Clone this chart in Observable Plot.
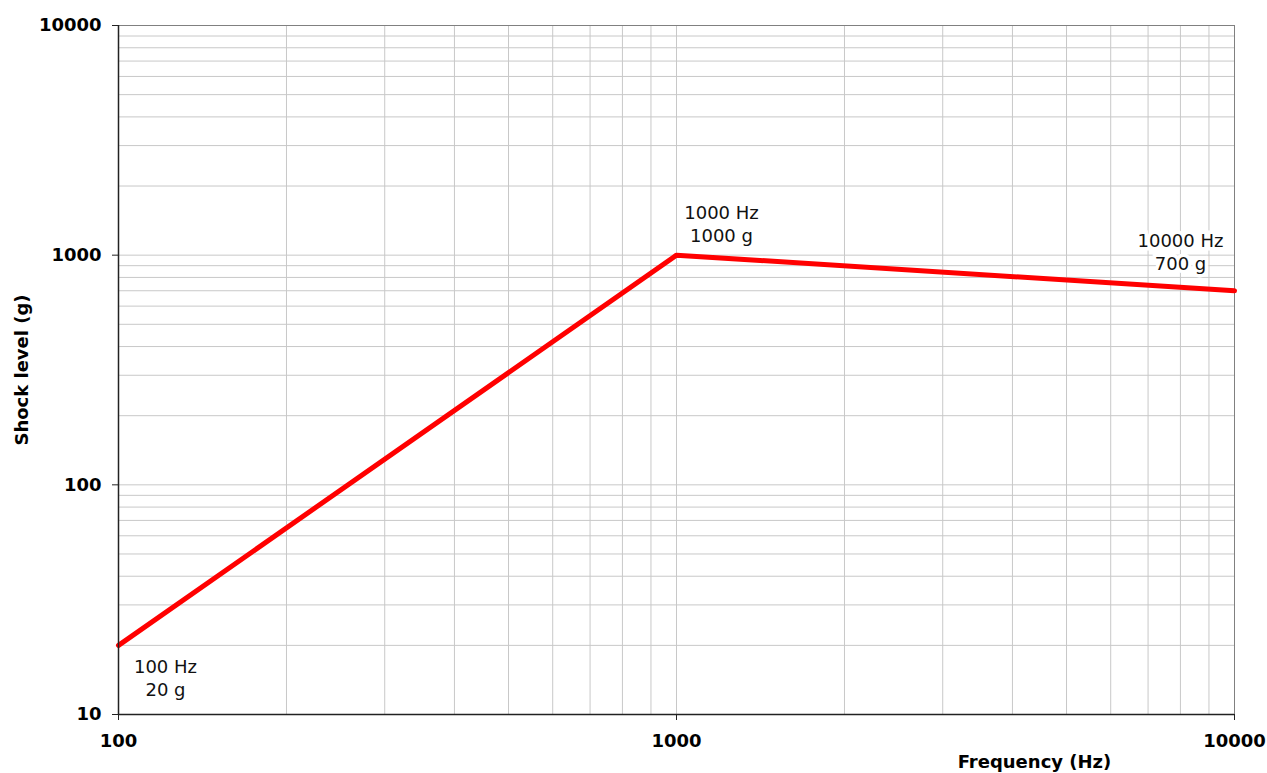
<!DOCTYPE html>
<html>
<head>
<meta charset="utf-8">
<script src="https://cdn.jsdelivr.net/npm/d3@7"></script>
<script src="https://cdn.jsdelivr.net/npm/@observablehq/plot@0.6"></script>
<style>
  html, body { margin: 0; padding: 0; background: #fff; }
  #chart svg { display: block; }
</style>
</head>
<body>
<div id="chart"></div>
<script>
// Data
const freqs = [100, 1000, 10000];
const levels = [20, 1000, 700];
const pointLabels = ["100 Hz\n20 g", "1000 Hz\n1000 g", "10000 Hz\n700 g"];
const xTicks = [100, 1000, 10000];
const yTicks = [10, 100, 1000, 10000];
const xTitle = "Frequency (Hz)";
const yTitle = "Shock level (g)";

const pts = freqs.map((f, i) => ({f, g: levels[i], label: pointLabels[i]}));

// Minor grid values (1..9 × each decade)
const decadesX = [100, 1000];
const decadesY = [10, 100, 1000];
const gridX = decadesX.flatMap(d => d3.range(1, 10).map(k => k * d)).concat([10000]);
const gridY = decadesY.flatMap(d => d3.range(1, 10).map(k => k * d)).concat([10000]);

const font = "Verdana, 'DejaVu Sans', sans-serif";

const labelStyle = {
  x: "f", y: "g", text: "label",
  fontSize: 18, fontFamily: font, fill: "#111",
  lineHeight: 1.28, textAnchor: "middle", lineAnchor: "middle",
  stroke: "white", strokeWidth: 7, strokeLinejoin: "miter"
};

const chart = Plot.plot({
  width: 1267,
  height: 773,
  marginLeft: 118,
  marginRight: 33,
  marginTop: 25,
  marginBottom: 59,
  style: {fontFamily: font, background: "white"},
  x: {type: "log", domain: [100, 10000]},
  y: {type: "log", domain: [10, 10000]},
  marks: [
    Plot.ruleX(gridX, {stroke: "#c8c8c8", strokeWidth: 1}),
    Plot.ruleY(gridY, {stroke: "#c8c8c8", strokeWidth: 1}),
    Plot.frame({stroke: "#808080", strokeWidth: 1}),
    Plot.line(pts, {x: "f", y: "g", stroke: "#ff0000", strokeWidth: 5, strokeLinejoin: "miter"}),
    Plot.text([pts[0]], {...labelStyle, dx: 47, dy: 31.5}),
    Plot.text([pts[1]], {...labelStyle, dx: 45, dy: -32}),
    Plot.text([pts[2]], {...labelStyle, dx: -54, dy: -40}),
    Plot.ruleX([100], {stroke: "#222", strokeWidth: 1.5}),
    Plot.ruleY([10], {stroke: "#222", strokeWidth: 1.5}),
    Plot.axisX({
      ticks: xTicks, tickFormat: d => String(d), tickSize: 6, tickPadding: 14,
      fontSize: 18, fontWeight: "bold", stroke: "#222", color: "#000", label: null
    }),
    Plot.axisY({
      ticks: yTicks, tickFormat: d => String(d), tickSize: 6, tickPadding: 11,
      fontSize: 18, fontWeight: "bold", stroke: "#222", color: "#000", label: null
    }),
    Plot.text([xTitle], {
      frameAnchor: "bottom", textAnchor: "middle", dx: 358, dy: 53,
      fontSize: 18, fontWeight: "bold", fill: "#000", fontFamily: font
    }),
    Plot.text([yTitle], {
      frameAnchor: "left", textAnchor: "middle", dx: -96, rotate: -90,
      fontSize: 18, fontWeight: "bold", fill: "#000", fontFamily: font
    })
  ]
});

document.getElementById("chart").appendChild(chart);
</script>
</body>
</html>
